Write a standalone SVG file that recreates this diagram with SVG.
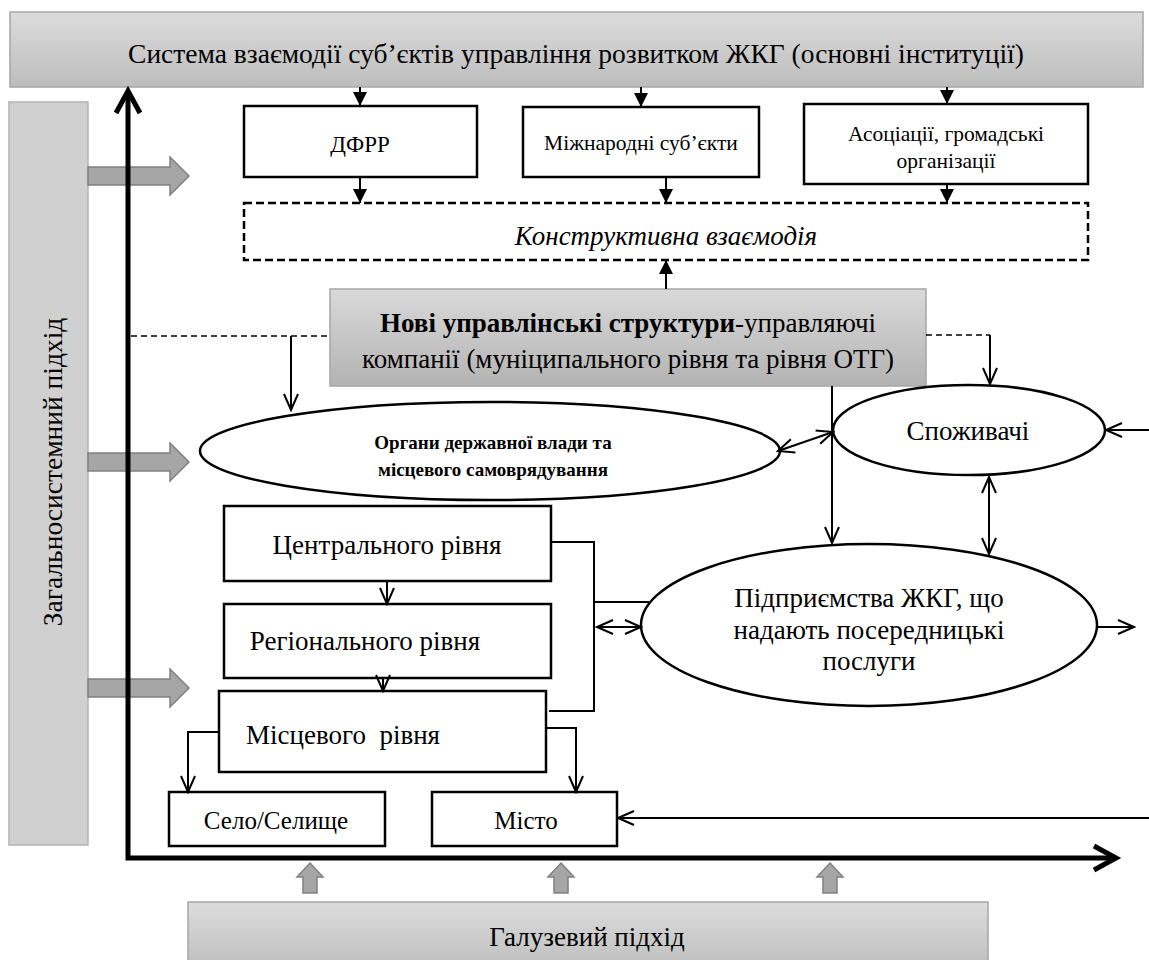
<svg xmlns="http://www.w3.org/2000/svg" width="1149" height="960" viewBox="0 0 1149 960">
<defs>
<linearGradient id="g1" x1="0" y1="0" x2="0" y2="1"><stop offset="0" stop-color="#dcdcdc"/><stop offset="1" stop-color="#bdbdbd"/></linearGradient>
<linearGradient id="g2" x1="0" y1="0" x2="0" y2="1"><stop offset="0" stop-color="#d9d9d9"/><stop offset="1" stop-color="#b3b3b3"/></linearGradient>
<marker id="tri" markerUnits="userSpaceOnUse" markerWidth="14" markerHeight="14" viewBox="0 0 14 14" refX="14" refY="7" orient="auto"><path d="M0,0 L14,7 L0,14 z" fill="#000"/></marker>
<marker id="open" markerUnits="userSpaceOnUse" markerWidth="20" markerHeight="18" viewBox="0 0 20 18" refX="18" refY="9" orient="auto-start-reverse"><path d="M2,2 L18,9 L2,16" fill="none" stroke="#000" stroke-width="2"/></marker>
<style>
.box{fill:#fff;stroke:#000;stroke-width:2.5}
.grey{fill:url(#g1);stroke:#a6a6a6;stroke-width:1.5}
.t{font-family:'Liberation Serif','Times New Roman',serif;fill:#000;text-anchor:middle}
.ln{fill:none;stroke:#000;stroke-width:2}
.lnt{fill:none;stroke:#000;stroke-width:2;marker-end:url(#tri)}
.lno{fill:none;stroke:#000;stroke-width:2;marker-end:url(#open)}
.lnd{fill:none;stroke:#000;stroke-width:2;marker-start:url(#open);marker-end:url(#open)}
.dash{fill:none;stroke:#000;stroke-width:1.3;stroke-dasharray:6 4}
.blk{fill:#a6a6a6;stroke:#808080;stroke-width:1.5}
.axis{fill:none;stroke:#000;stroke-width:5}
</style>
</defs>
<rect width="1149" height="960" fill="#fff"/>

<g id="banner-top">
<rect class="grey" x="10" y="12" width="1133" height="75"/>
<text class="t" x="576" y="63" font-size="27.5">Система взаємодії суб’єктів управління розвитком ЖКГ (основні інституції)</text>
</g>

<g id="banner-left">
<rect x="9" y="102" width="79" height="743" fill="#d0d0d0" stroke="#b3b3b3" stroke-width="1.5"/>
<text class="t" font-size="27.5" transform="translate(62,472) rotate(-90)">Загальносистемний підхід</text>
</g>

<g id="banner-bottom">
<rect class="grey" x="188" y="902" width="800" height="70"/>
<text class="t" x="587" y="946" font-size="27">Галузевий підхід</text>
</g>

<g id="dfrr">
<rect class="box" x="244" y="106" width="233" height="71"/>
<text class="t" x="360" y="152" font-size="23">ДФРР</text>
</g>
<g id="mizhnar">
<rect class="box" x="523" y="107" width="236" height="70"/>
<text class="t" x="641" y="150" font-size="21.5">Міжнародні суб’єкти</text>
</g>
<g id="asoc">
<rect class="box" x="804" y="104" width="284" height="80"/>
<text class="t" x="946" y="141" font-size="21.5">Асоціації, громадські</text>
<text class="t" x="946" y="168" font-size="21.5">організації</text>
</g>

<g id="konstr">
<rect x="244" y="203" width="844" height="57" fill="#fff" stroke="#000" stroke-width="2.5" stroke-dasharray="8 4"/>
<text class="t" x="666" y="245" font-size="27" font-style="italic">Конструктивна взаємодія</text>
</g>

<g id="novi">
<rect x="330" y="289" width="596" height="97" fill="url(#g2)" stroke="#a6a6a6" stroke-width="1.5"/>
<text class="t" x="628" y="332" font-size="27"><tspan font-weight="bold">Нові управлінські структури</tspan>-управляючі</text>
<text class="t" x="628" y="368" font-size="27">компанії (муніципального рівня та рівня ОТГ)</text>
</g>

<g id="organy">
<ellipse class="box" cx="490" cy="451" rx="290" ry="49"/>
<text class="t" x="493" y="449" font-size="19" font-weight="bold">Органи державної влади та</text>
<text class="t" x="493" y="476" font-size="19" font-weight="bold">місцевого самоврядування</text>
</g>

<g id="spozh">
<ellipse class="box" cx="969" cy="430" rx="136" ry="45"/>
<text class="t" x="968" y="440" font-size="27">Споживачі</text>
</g>

<g id="pidpr">
<ellipse class="box" cx="869" cy="625" rx="228" ry="81"/>
<text class="t" x="869" y="607" font-size="27">Підприємства ЖКГ, що</text>
<text class="t" x="869" y="639" font-size="27">надають посередницькі</text>
<text class="t" x="869" y="670" font-size="27">послуги</text>
</g>

<g id="centr">
<rect class="box" x="224" y="506" width="327" height="75"/>
<text class="t" x="387" y="554" font-size="27">Центрального рівня</text>
</g>
<g id="region">
<rect class="box" x="224" y="604" width="327" height="74"/>
<text class="t" x="365" y="650" font-size="27">Регіонального рівня</text>
</g>
<g id="misc">
<rect class="box" x="219" y="691" width="327" height="81"/>
<text class="t" x="343" y="744" font-size="27" style="white-space:pre">Місцевого  рівня</text>
</g>
<g id="selo">
<rect class="box" x="169" y="792" width="216" height="54"/>
<text class="t" x="276" y="829" font-size="25">Село/Селище</text>
</g>
<g id="misto">
<rect class="box" x="432" y="792" width="185" height="54"/>
<text class="t" x="526" y="829" font-size="25">Місто</text>
</g>

<g id="block-arrows">
<polygon class="blk" points="88,167 170,167 170,157 189,176 170,195 170,185 88,185"/>
<polygon class="blk" points="88,453 170,453 170,443 189,462 170,481 170,471 88,471"/>
<polygon class="blk" points="88,679 170,679 170,669 189,688 170,707 170,697 88,697"/>
<polygon class="blk" points="310,863 323,877 317,877 317,893 303,893 303,877 297,877"/>
<polygon class="blk" points="561,863 574,877 568,877 568,893 554,893 554,877 548,877"/>
<polygon class="blk" points="830,863 843,877 837,877 837,893 823,893 823,877 817,877"/>
</g>

<g id="connectors">
<path class="axis" d="M128,93 V858 H1114"/>
<path class="axis" d="M116,113 L128,91 L140,113" stroke-linejoin="miter"/>
<path class="axis" d="M1094,846 L1116,858 L1094,870" stroke-linejoin="miter"/>

<path class="lnt" d="M360,87 V106"/>
<path class="lnt" d="M641,87 V107"/>
<path class="lnt" d="M947,87 V104"/>
<path class="lnt" d="M360,177 V203"/>
<path class="lnt" d="M666,177 V203"/>
<path class="lnt" d="M947,184 V203"/>
<path class="lnt" d="M666,289 V260"/>

<path class="dash" d="M131,336 H330"/>
<path class="dash" d="M926,335 H990"/>
<path class="lno" d="M291,336 V410"/>
<path class="lno" d="M990,335 V384"/>
<path class="lno" d="M832,386 V543"/>
<path class="lnd" d="M778,451 L833,432"/>
<path class="lnd" d="M989,477 V554"/>
<path class="lno" d="M1149,430 H1106"/>
<path class="lno" d="M1097,627 H1134"/>
<path class="lno" d="M387,581 V604"/>
<path class="lno" d="M383,678 V691"/>
<path class="ln" d="M551,542 H594 V711 H549"/>
<path class="ln" d="M594,602 H649"/>
<path class="lnd" d="M597,627 H641"/>
<path class="lno" d="M219,732 H188 V792"/>
<path class="lno" d="M546,728 H576 V792"/>
<path class="lno" d="M1149,818 H618"/>
</g>
</svg>
